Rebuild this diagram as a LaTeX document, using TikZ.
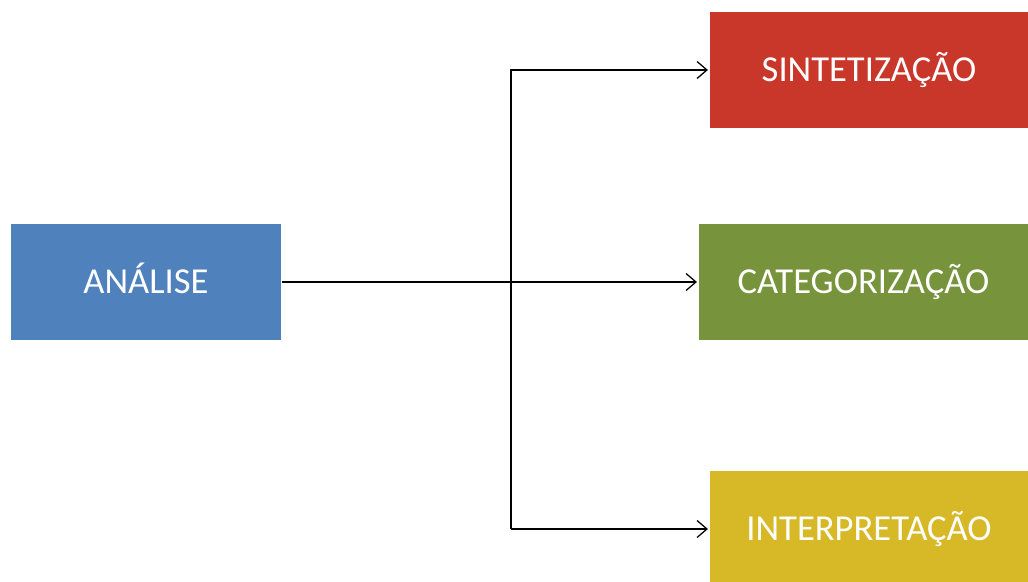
\documentclass[tikz,border=0pt]{standalone}
\usepackage{fontspec}
\setsansfont{Carlito}
\usetikzlibrary{arrows.meta}
\definecolor{azul}{HTML}{4F81BD}
\definecolor{vermelho}{HTML}{C9362A}
\definecolor{verde}{HTML}{77933C}
\definecolor{amarelo}{HTML}{D7B827}
\begin{document}
\begin{tikzpicture}[x=0.025cm,y=-0.025cm,-{Straight Barb[length=7pt,width=12pt]},shorten >=1pt,line width=0.9pt,
	main node/.style={rectangle,inner sep=0pt,text=white,font=\sffamily\fontsize{26}{30}\selectfont,text height=16.7pt,text depth=0pt,minimum height=2.9cm}]
			\useasboundingbox (0,0) rectangle (1028,582);
			
			\node[main node,fill=azul,minimum width=6.75cm] (analise) at (146,282) {ANÁLISE};
			\node[main node,fill=vermelho,minimum width=7.95cm] (sintese) at (869,70) {SINTETIZAÇÃO};
			\node[main node,fill=verde,minimum width=8.225cm] (categ) at (863.5,282) {CATEGORIZAÇÃO};
			\node[main node,fill=amarelo,minimum width=7.95cm,minimum height=2.9cm] (interp) at (869,529) {INTERPRETAÇÃO};
			\coordinate (split) at (511,282);
			
			\draw (analise) -- (categ);
			\draw (split |- interp.west) -- (split |- sintese.west) -- (sintese.west);
			\draw (split |- interp.west) -- (interp.west);
			\end{tikzpicture}
\end{document}
